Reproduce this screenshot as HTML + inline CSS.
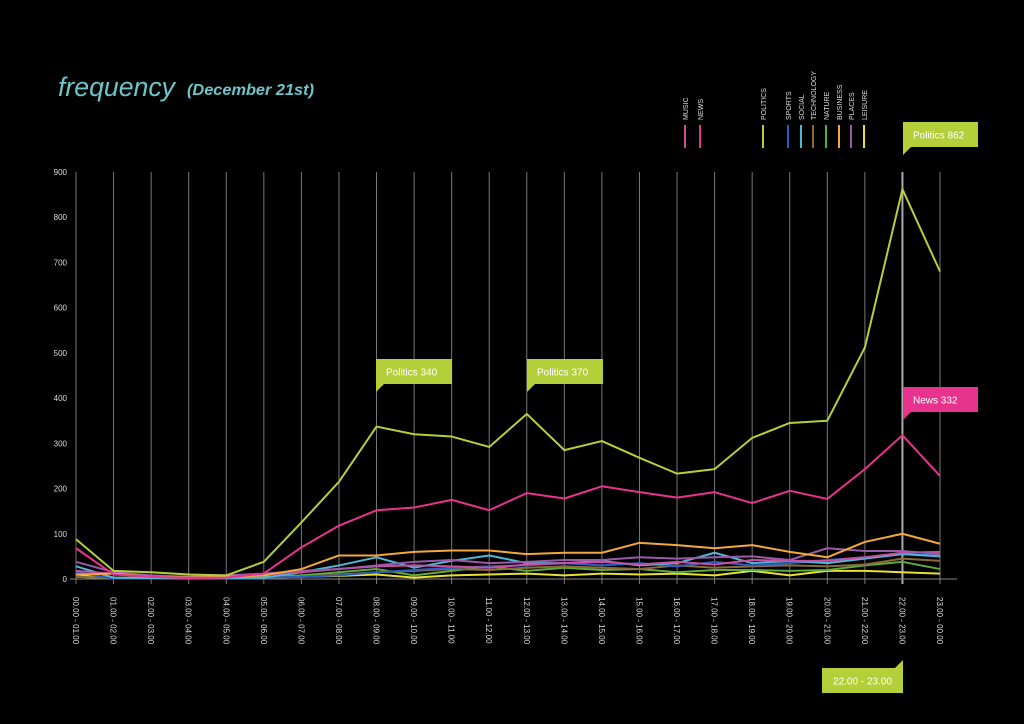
<!DOCTYPE html>
<html><head><meta charset="utf-8"><style>
html,body{margin:0;padding:0;background:#000;}
svg{display:block;font-family:"Liberation Sans","DejaVu Sans",sans-serif;}
</style></head><body>
<svg id="s" width="1024" height="724" viewBox="0 0 1024 724" xmlns="http://www.w3.org/2000/svg">
<rect width="1024" height="724" fill="#000"/>
<text x="58" y="96" fill="#6cc5c9" font-size="27" font-style="italic" textLength="117" lengthAdjust="spacingAndGlyphs">frequency</text>
<text x="187" y="95" fill="#6cc5c9" font-size="16" font-style="italic" font-weight="bold" textLength="127" lengthAdjust="spacingAndGlyphs">(December 21st)</text>
<g id="g"></g>
</svg>
<script>
const NS="http://www.w3.org/2000/svg",g=document.getElementById('g');
function el(t,a,txt){const e=document.createElementNS(NS,t);for(const k in a)e.setAttribute(k,a[k]);if(txt!==undefined)e.textContent=txt;g.appendChild(e);return e;}
const X=i=>76+i*864/23, Y=v=>579-v*407/900;
for(let i=0;i<24;i++){const x=X(i);el('line',{x1:x,y1:172,x2:x,y2:584,stroke:i==22?'#aaa':'#777','stroke-width':i==22?2:1});
const a=String(i).padStart(2,'0'),b=String((i+1)%24).padStart(2,'0');
el('text',{x:0,y:0,fill:'#ddd','font-size':8,transform:`translate(${x-3},597) rotate(90)`},`${a}.00 - ${b}.00`);}
el('line',{x1:70,y1:579,x2:957,y2:579,stroke:'#888','stroke-width':1});
for(let v=0;v<=900;v+=100)el('text',{x:67,y:Y(v)+3,fill:'#ddd','font-size':8,'text-anchor':'end'},v);
const S=[
['#e8e030',[10,3,2,1,3,3,5,7,10,3,8,10,12,8,12,10,12,8,18,8,18,18,15,12]],
['#5aac3c',[5,1,2,1,3,5,8,15,22,8,18,28,18,25,20,22,15,20,20,18,20,30,38,22]],
['#8a6a3a',[5,2,1,1,2,3,5,10,15,18,22,20,25,28,25,22,30,25,28,30,28,32,45,40]],
['#2d5cc0',[15,1,1,1,2,3,5,8,15,20,25,28,30,35,30,35,28,38,30,35,42,48,55,52]],
['#4fb6d8',[28,3,2,1,2,3,15,30,48,25,40,52,35,35,40,30,35,58,35,40,35,45,55,50]],
['#c84f9f',[18,12,5,3,5,10,15,22,28,30,28,25,32,35,38,32,38,32,42,40,40,48,58,60]],
['#9a5aa8',[38,15,8,5,8,12,18,22,30,38,42,35,38,42,42,48,45,48,50,42,68,62,62,55]],
['#f5a83a',[10,12,5,3,5,8,22,52,52,60,63,63,55,58,58,80,75,68,75,60,48,82,100,78]],
['#e8338e',[68,10,5,2,3,12,70,118,152,158,175,152,190,178,205,192,180,192,168,195,177,243,318,228]],
['#b5cf3a',[88,18,15,10,8,38,125,215,337,320,315,292,365,285,305,268,233,243,312,345,350,512,862,680]]];
for(const [c,d] of S)el('polyline',{points:d.map((v,i)=>X(i)+','+Y(v)).join(' '),fill:'none',stroke:c,'stroke-width':2,'stroke-linejoin':'round'});
const L=[['MUSIC',685,'#c84f8f'],['NEWS',700,'#e8338e'],['POLITICS',763,'#b5cf3a'],['SPORTS',788,'#2d5cc0'],['SOCIAL',801,'#4fb6d8'],['TECHNOLOGY',813,'#8a6a3a'],['NATURE',826,'#5aac3c'],['BUSINESS',839,'#f5a83a'],['PLACES',851,'#9a5aa8'],['LEISURE',864,'#e8e030']];
for(const [t,x,c] of L){el('text',{x:0,y:0,fill:'#ddd','font-size':7,transform:`translate(${x+3},120) rotate(-90)`},t);
el('rect',{x:x-1,y:125,width:2,height:23,fill:c});}
function call(x,y,w,h,c,t,up){
 if(up){el('rect',{x:x,y:y,width:w,height:h,fill:c});el('polygon',{points:`${x+w-8},${y} ${x+w},${y-8} ${x+w},${y}`,fill:c});}
 else{el('rect',{x:x,y:y,width:w,height:h,fill:c});el('polygon',{points:`${x},${y+h} ${x+8},${y+h} ${x},${y+h+8}`,fill:c});}
 el('text',{x:x+(up?w/2:10),y:y+h/2+4,fill:'#fff','font-size':10,'text-anchor':up?'middle':'start'},t);}
call(903,122,75,25,'#b5cf3a','Politics 862');
call(376,359,76,25,'#b5cf3a','Politics 340');
call(527,359,76,25,'#b5cf3a','Politics 370');
call(903,387,75,25,'#e8338e','News 332');
call(822,668,81,25,'#b5cf3a','22.00 - 23.00',true);
</script>
</body></html>
